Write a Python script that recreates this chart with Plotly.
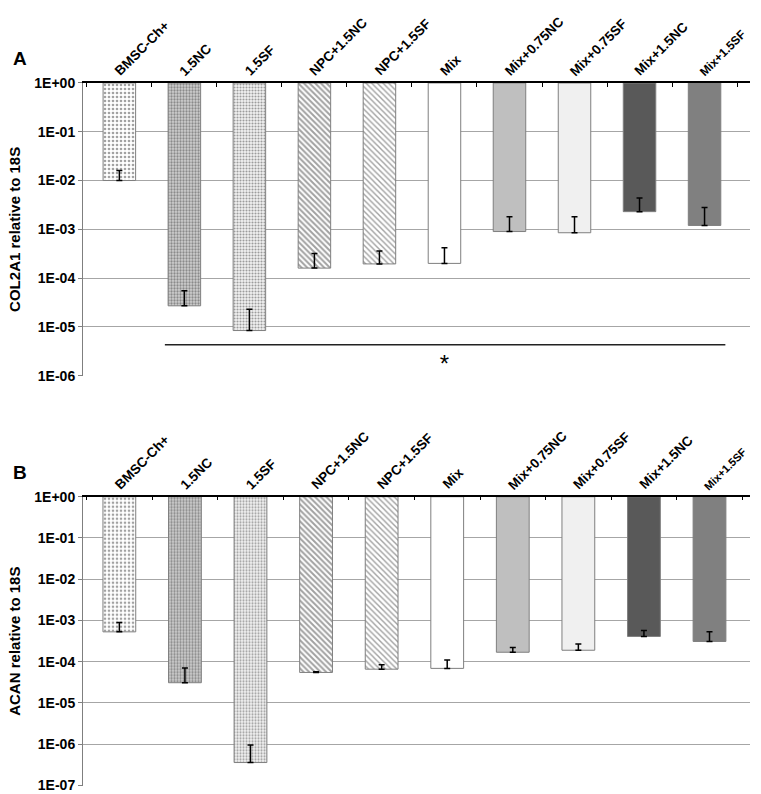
import plotly.graph_objects as go
from plotly.subplots import make_subplots

categories = ["BMSC-Ch+", "1.5NC", "1.5SF", "NPC+1.5NC", "NPC+1.5SF", "Mix",
              "Mix+0.75NC", "Mix+0.75SF", "Mix+1.5NC", "Mix+1.5SF"]

# Panel A: COL2A1 relative to 18S (mean, upper error)
col2a1_mean = [1.0e-2, 2.7e-5, 8.4e-6, 1.6e-4, 1.95e-4, 2.0e-4, 9.0e-4, 8.5e-4, 2.3e-3, 1.2e-3]
col2a1_err = [0.6e-2, 2.8e-5, 1.45e-5, 1.6e-4, 1.65e-4, 2.2e-4, 0.9e-3, 0.95e-3, 2.1e-3, 1.6e-3]

# Panel B: ACAN relative to 18S
acan_mean = [5.3e-4, 3.1e-5, 3.6e-7, 5.5e-5, 6.6e-5, 6.9e-5, 1.7e-4, 1.9e-4, 4.1e-4, 3.1e-4]
acan_err = [3.6e-4, 4.0e-5, 6.0e-7, 0.2e-5, 1.9e-5, 4.1e-5, 0.5e-4, 0.8e-4, 1.6e-4, 2.2e-4]

top_ticks = [1, 1e-1, 1e-2, 1e-3, 1e-4, 1e-5, 1e-6]
top_ticktext = ["1E+00", "1E-01", "1E-02", "1E-03", "1E-04", "1E-05", "1E-06"]
bot_ticks = [1, 1e-1, 1e-2, 1e-3, 1e-4, 1e-5, 1e-6, 1e-7]
bot_ticktext = ["1E+00", "1E-01", "1E-02", "1E-03", "1E-04", "1E-05", "1E-06", "1E-07"]

def bold(lst):
    return ["<b>%s</b>" % s for s in lst]

# category label font sizes (last label of panel B is smaller in the original)
top_label_sizes = [13.5] * 9 + [12]
bot_label_sizes = [13.5] * 9 + [11]

# styles per bar
pat_shape = [".", ".", ".", "\\", "\\", "", "", "", "", ""]
pat_fg = ["#8c8c8c", "#6e6e6e", "#b4b4b4", "#000000", "#8a8a8a", "#ffffff", "#bfbfbf", "#f0f0f0", "#595959", "#808080"]
pat_bg = ["#ffffff", "#cfcfcf", "#f2f2f2", "#ffffff", "#ffffff", "#ffffff", "#bfbfbf", "#f0f0f0", "#595959", "#808080"]
pat_size = [4, 3, 3, 4, 4, 8, 8, 8, 8, 8]
pat_sol = [0.35, 0.45, 0.4, 0.5, 0.35, 0.3, 0.3, 0.3, 0.3, 0.3]

FONT = "Liberation Sans, Arial, sans-serif"

fig = make_subplots(rows=2, cols=1)

def add_panel(row, means, errs):
    fig.add_trace(go.Bar(
        x=categories, y=[1 - m for m in means], base=means,
        marker=dict(color=pat_bg,
                    line=dict(color="#7f7f7f", width=1),
                    pattern=dict(shape=pat_shape, fgcolor=pat_fg, bgcolor=pat_bg,
                                 size=pat_size, solidity=pat_sol)),
        showlegend=False, hoverinfo="skip"), row=row, col=1)
    fig.add_trace(go.Scatter(
        x=categories, y=means, mode="markers",
        marker=dict(size=1, color="rgba(0,0,0,0)"),
        error_y=dict(type="data", symmetric=False, array=errs,
                     arrayminus=[0] * len(errs), color="#000000",
                     thickness=1.5, width=3),
        showlegend=False, hoverinfo="skip"), row=row, col=1)

add_panel(1, col2a1_mean, col2a1_err)
add_panel(2, acan_mean, acan_err)

# significance bracket and star in panel A
sig_y = 4.3e-6
fig.add_shape(type="line", xref="x", yref="y", x0=0.7, x1=9.32, y0=sig_y, y1=sig_y,
              line=dict(color="#222222", width=1.5))
fig.add_trace(go.Scatter(x=["Mix"], y=[1.6e-6], mode="text", text=["*"],
                         textfont=dict(family=FONT, size=24, color="black"),
                         showlegend=False, hoverinfo="skip"), row=1, col=1)

xax = dict(side="top", ticks="inside", tickson="boundaries",
           ticklen=4, tickcolor="black", showline=True, linecolor="black",
           linewidth=1.5, showgrid=False, automargin=False, showticklabels=False)
fig.update_xaxes(**xax)

yax = dict(type="log", showgrid=True, gridcolor="#a6a6a6", gridwidth=1,
           showline=True, linecolor="#7f7f7f", linewidth=1, ticks="outside",
           ticklen=4, tickcolor="#7f7f7f", automargin=False, zeroline=False,
           ticklabeloverflow="allow",
           tickfont=dict(family=FONT, size=14, color="black"))
fig.update_yaxes(**yax)
fig.update_yaxes(range=[-6.002, 0], tickvals=top_ticks, ticktext=bold(top_ticktext),
                 title=dict(text="<b>COL2A1 relative to 18S</b>", standoff=10,
                            font=dict(family=FONT, size=15, color="black")),
                 row=1, col=1)
fig.update_yaxes(range=[-7.004, 0], tickvals=bot_ticks, ticktext=bold(bot_ticktext),
                 title=dict(text="<b>ACAN relative to 18S</b>", standoff=10,
                            font=dict(family=FONT, size=15, color="black")),
                 row=2, col=1)

annotations = [
    dict(text="<b>A</b>", xref="paper", yref="paper", x=-0.0945, y=0.9257,
         xanchor="center", yanchor="middle",
         showarrow=False, font=dict(family=FONT, size=19, color="black")),
    dict(text="<b>B</b>", xref="paper", yref="paper", x=-0.0945, y=0.4055,
         xanchor="center", yanchor="middle",
         showarrow=False, font=dict(family=FONT, size=19, color="black")),
]
# rotated category labels above each panel
for yref, sizes in (("y domain", top_label_sizes), ("y2 domain", bot_label_sizes)):
    xref = "x" if yref == "y domain" else "x2"
    for cat, fs in zip(categories, sizes):
        annotations.append(dict(
            text="<b>%s</b>" % cat, xref=xref, yref=yref, x=cat, y=1,
            xanchor="left", yanchor="bottom", textangle=-45, showarrow=False,
            xshift=-9, yshift=3, borderpad=0,
            font=dict(family=FONT, size=fs, color="black")))

fig.update_layout(
    width=761, height=794,
    margin=dict(l=83, r=11, t=0, b=0),
    plot_bgcolor="white", paper_bgcolor="white",
    bargap=0.5,
    font=dict(family=FONT, size=13, color="black"),
    xaxis=dict(domain=[0, 1]), xaxis2=dict(domain=[0, 1]),
    yaxis=dict(domain=[0.5268, 0.8955]),
    yaxis2=dict(domain=[0.0105, 0.3744]),
    annotations=annotations,
)

fig.write_html("out.html", config={"displayModeBar": False},
               post_script="document.body.style.margin='0';document.body.style.padding='0';"
                           "document.body.style.overflow='hidden';"
                           "document.documentElement.style.overflow='hidden';"
                           "var gd=document.getElementById('{plot_id}');"
                           "gd.style.overflow='hidden';")
